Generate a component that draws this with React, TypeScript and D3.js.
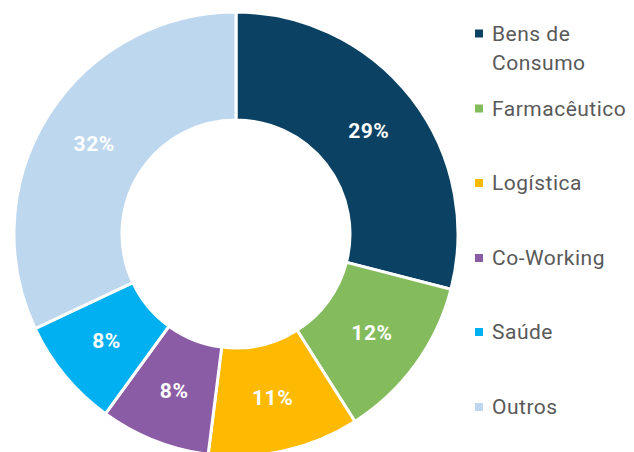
import React from "react";
import * as d3 from "d3";

const categories = ["Bens de Consumo", "Farmacêutico", "Logística", "Co-Working", "Saúde", "Outros"];
const values = [29, 12, 11, 8, 8, 32];
const colors = ["#0B4162", "#84BB5C", "#FDBA00", "#8A5CA5", "#00B0F0", "#BDD7EE"];
const legendLines = [["Bens de", "Consumo"], ["Farmacêutico"], ["Logística"], ["Co-Working"], ["Saúde"], ["Outros"]];

export default function App() {
  const W = 634, H = 452;
  const cx = 236, cy = 234;
  const outerR = 222, innerR = 114;
  const pie = d3.pie<number>().sort(null).value((d) => d)(values);
  const arc = d3.arc<d3.PieArcDatum<number>>().innerRadius(innerR).outerRadius(outerR);
  const labelArc = d3.arc<d3.PieArcDatum<number>>().innerRadius(168).outerRadius(168);
  const legendY = [33.5, 108.5, 183, 258, 332, 407];
  return (
    <svg width={W} height={H} style={{ position: "absolute", left: 0, top: 0, background: "#fff" }}>
      <g transform={`translate(${cx},${cy})`}>
        {pie.map((p, i) => (
          <path key={i} d={arc(p) || ""} fill={colors[i]} stroke="#fff" strokeWidth={3} />
        ))}
        {pie.map((p, i) => {
          const [x, y] = labelArc.centroid(p);
          return (
            <text key={"l" + i} x={x} y={y} dy="0.35em" textAnchor="middle" fill="#fff"
              fontFamily="Roboto, sans-serif" fontWeight={700} fontSize={21} letterSpacing={0.5}>
              {values[i]}%
            </text>
          );
        })}
      </g>
      {categories.map((c, i) => (
        <g key={c}>
          <rect x={475} y={legendY[i] - 4} width={8} height={8} fill={colors[i]} />
          {legendLines[i].map((ln, j) => (
            <text key={j} x={492} y={legendY[i] + j * 29} dy="0.35em" fill="#595959"
              fontFamily="Roboto, sans-serif" fontSize={21} letterSpacing={0.5}>
              {ln}
            </text>
          ))}
        </g>
      ))}
    </svg>
  );
}
